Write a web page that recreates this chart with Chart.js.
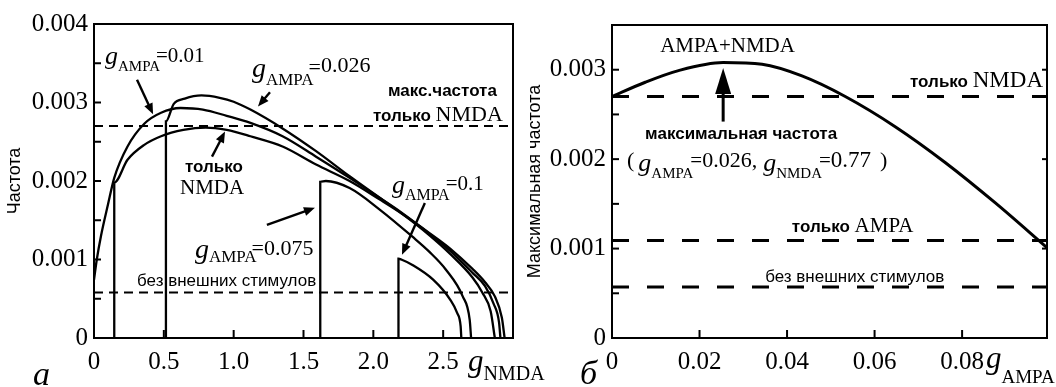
<!DOCTYPE html>
<html><head><meta charset="utf-8">
<script src="https://cdn.jsdelivr.net/npm/chart.js@4/dist/chart.umd.min.js"></script>
<style>
html,body{margin:0;padding:0;background:#fff;}
#wrap{position:relative;width:1056px;height:387px;overflow:hidden;background:#fff;}
#c1{position:absolute;left:0;top:0;}
#c2{position:absolute;left:520px;top:0;}
</style></head><body>
<div id="wrap"><canvas id="c1" width="560" height="387"></canvas><canvas id="c2" width="536" height="387"></canvas></div>
<script>
// ---------- DATA (panel а: frequency vs g_NMDA) ----------
const nmdaOnlyX = [0.145, 0.145, 0.24, 0.36, 0.48, 0.64, 0.8, 0.95, 1.12, 1.35, 1.59, 1.83, 2.05, 2.2, 2.4, 2.55, 2.71, 2.8, 2.87, 2.92, 2.94];
const nmdaOnlyY = [0, 0.00198, 0.00227, 0.00246, 0.00257, 0.00265, 0.00268, 0.00265, 0.00257, 0.00244, 0.00221, 0.002, 0.00176, 0.00159, 0.00134, 0.00114, 0.00088, 0.00071, 0.00053, 0.00026, 0];
const ampa001X = [0, 0.02, 0.05, 0.1, 0.145, 0.24, 0.36, 0.48, 0.62, 0.78, 0.95, 1.12, 1.35, 1.59, 1.83, 2.05, 2.2, 2.4, 2.55, 2.71, 2.8, 2.86, 2.9, 2.91];
const ampa001Y = [0.00074, 0.001, 0.0013, 0.0017, 0.00204, 0.00244, 0.00273, 0.00287, 0.00293, 0.00291, 0.00283, 0.00274, 0.00257, 0.00231, 0.00204, 0.00178, 0.0016, 0.00133, 0.00111, 0.00083, 0.00066, 0.00044, 0.0002, 0];
const ampa0026X = [0.515, 0.515, 0.57, 0.65, 0.77, 0.9, 1.0, 1.12, 1.35, 1.59, 1.83, 2.05, 2.2, 2.4, 2.55, 2.71, 2.78, 2.84, 2.87];
const ampa0026Y = [0, 0.00276, 0.00298, 0.00305, 0.00309, 0.00306, 0.00301, 0.00291, 0.00267, 0.00238, 0.00206, 0.00178, 0.00159, 0.00131, 0.00107, 0.00077, 0.00058, 0.00034, 0];
const ampa0075X = [1.62, 1.62, 1.66, 1.83, 2.05, 2.28, 2.4, 2.52, 2.64, 2.69, 2.70];
const ampa0075Y = [0, 0.00199, 0.002, 0.00191, 0.00163, 0.00129, 0.0011, 0.00087, 0.00053, 0.00023, 0];
const ampa01X = [2.18, 2.18, 2.2, 2.28, 2.43, 2.55, 2.6, 2.625, 2.63];
const ampa01Y = [0, 0.00101, 0.001, 0.00093, 0.00074, 0.00049, 0.00032, 0.00015, 0];
const leftRefLevels = [0.0027, 0.00058];
const leftXTicks = [0, 0.5, 1.0, 1.5, 2.0, 2.5];
const leftXTickLabels = ['0', '0.5', '1.0', '1.5', '2.0', '2.5'];
const leftYTicks = [0, 0.001, 0.002, 0.003, 0.004];
const leftYTickLabels = ['0', '0.001', '0.002', '0.003', '0.004'];

// ---------- DATA (panel б: max frequency vs g_AMPA) ----------
const maxFreqX = [0, 0.0076, 0.0152, 0.0254, 0.0343, 0.0434, 0.0533, 0.0648, 0.0762, 0.0876, 0.0994];
const maxFreqY = [0.0027, 0.00286, 0.00299, 0.00308, 0.00306, 0.00293, 0.0027, 0.00236, 0.00196, 0.00151, 0.00101];
const rightRefLevels = [0.0027, 0.00109, 0.00057];
const rightXTicks = [0, 0.02, 0.04, 0.06, 0.08];
const rightXTickLabels = ['0', '0.02', '0.04', '0.06', '0.08'];
const rightYTicks = [0, 0.001, 0.002, 0.003];
const rightYTickLabels = ['0', '0.001', '0.002', '0.003'];

// ---------- helpers ----------
const SERIF = '"Liberation Serif", "Times New Roman", serif';
const SANS = '"Liberation Sans", Arial, sans-serif';
const pts = (xs, ys) => xs.map((x, i) => ({x: x, y: ys[i]}));
const F = (size, style, fam) => (style ? style + ' ' : '') + size + 'px ' + (fam || SERIF);
const g = (size, dy, dx) => ({t: 'g', font: F(size, 'italic'), dy: dy || 0, dx: dx || 0});
const sub = (t, size, dy, dx) => ({t: t, font: F(size), dy: dy, dx: dx || 0});
const txt = (t, size, dx, dy) => ({t: t, font: F(size), dx: dx || 0, dy: dy || 0});
const sans = (t, size, bold) => ({t: t, font: F(size, bold ? 'bold' : '', SANS)});

function drawRich(ctx, x, y, segs, align) {
  let w = 0;
  segs.forEach(s => { ctx.font = s.font; w += (s.dx || 0) + ctx.measureText(s.t).width; });
  let cx = align === 'center' ? x - w / 2 : x;
  ctx.textBaseline = 'alphabetic';
  ctx.textAlign = 'left';
  segs.forEach(s => {
    ctx.font = s.font;
    cx += (s.dx || 0);
    ctx.fillText(s.t, cx, y + (s.dy || 0));
    cx += ctx.measureText(s.t).width;
  });
}
function drawArrow(ctx, x0, y0, x1, y1, lw, hl, hw) {
  const ang = Math.atan2(y1 - y0, x1 - x0);
  const bx = x1 - hl * Math.cos(ang), by = y1 - hl * Math.sin(ang);
  ctx.lineWidth = lw;
  ctx.beginPath(); ctx.moveTo(x0, y0); ctx.lineTo(bx + Math.cos(ang), by + Math.sin(ang)); ctx.stroke();
  ctx.beginPath();
  ctx.moveTo(x1, y1);
  ctx.lineTo(bx + hw * Math.sin(ang), by - hw * Math.cos(ang));
  ctx.lineTo(bx - hw * Math.sin(ang), by + hw * Math.cos(ang));
  ctx.closePath(); ctx.fill();
}

const deco = {
  id: 'deco',
  afterDatasetsDraw(chart, args, o) {
    const ctx = chart.ctx, xs = chart.scales.x, ys = chart.scales.y, a = chart.chartArea;
    ctx.save();
    ctx.strokeStyle = '#000'; ctx.fillStyle = '#000'; ctx.lineCap = 'butt';
    ctx.lineWidth = 2;
    ctx.strokeRect(a.left, a.top, a.right - a.left, a.bottom - a.top);
    o.yMajor.concat(o.yMinor).forEach(v => { const p = ys.getPixelForValue(v); ctx.beginPath(); ctx.moveTo(a.left, p); ctx.lineTo(a.left + 7, p); ctx.stroke(); });
    (o.yRight || []).forEach(v => { const p = ys.getPixelForValue(v); ctx.beginPath(); ctx.moveTo(a.right, p); ctx.lineTo(a.right - 5, p); ctx.stroke(); });
    o.xMajor.forEach(v => { const p = xs.getPixelForValue(v); ctx.beginPath(); ctx.moveTo(p, a.bottom); ctx.lineTo(p, a.bottom - 8); ctx.stroke(); });
    o.arrows.forEach(r => {
      drawArrow(ctx, xs.getPixelForValue(r.x0), ys.getPixelForValue(r.y0), xs.getPixelForValue(r.x1), ys.getPixelForValue(r.y1), r.lw || 2.4, r.hl || 11, r.hw || 4.5);
    });
    o.labels.forEach(l => drawRich(ctx, xs.getPixelForValue(l.x), ys.getPixelForValue(l.y), l.segs, l.align));
    o.edgeLabels.forEach(l => drawRich(ctx, (l.fromRight ? a.right : a.left) + l.dx, a.bottom + l.dy, l.segs, l.align));
    ctx.restore();
  }
};

function curveDs(xs, ys, w) {
  return {data: pts(xs, ys), borderColor: '#000', borderWidth: w, pointRadius: 0, fill: false, cubicInterpolationMode: 'monotone', tension: 0.4};
}
function refDs(v, x0, x1, dash, w) {
  return {data: [{x: x0, y: v}, {x: x1, y: v}], borderColor: '#000', borderWidth: w, borderDash: dash, pointRadius: 0, fill: false, tension: 0};
}
function scales(xmin, xmax, xt, xl, ymin, ymax, yt, yl, yw, xh, ytitle) {
  return {
    x: {type: 'linear', min: xmin, max: xmax,
      afterBuildTicks: s => { s.ticks = xt.map(v => ({value: v})); },
      afterFit: s => { s.height = xh; },
      grid: {display: false, drawTicks: false}, border: {display: false},
      ticks: {autoSkip: false, maxRotation: 0, padding: 9, color: '#000', font: {family: SERIF, size: 25},
        callback: (v, i) => xl[i]}},
    y: {type: 'linear', min: ymin, max: ymax,
      afterBuildTicks: s => { s.ticks = yt.map(v => ({value: v})); },
      afterFit: s => { s.width = yw; },
      grid: {display: false, drawTicks: false}, border: {display: false},
      ticks: {autoSkip: false, padding: 6, color: '#000', font: {family: SERIF, size: 25},
        callback: (v, i) => yl[i]},
      title: {display: true, text: ytitle, color: '#000', font: {family: SANS, size: 18}, padding: {top: 4, bottom: 0}}}
  };
}

// ---------- chart а ----------
new Chart(document.getElementById('c1'), {
  type: 'line',
  data: {datasets: [
    curveDs(nmdaOnlyX, nmdaOnlyY, 2.3),
    curveDs(ampa001X, ampa001Y, 2.3),
    curveDs(ampa0026X, ampa0026Y, 2.3),
    curveDs(ampa0075X, ampa0075Y, 2.3),
    curveDs(ampa01X, ampa01Y, 2.3),
    refDs(leftRefLevels[0], 0, 3, [9, 6], 2),
    refDs(leftRefLevels[1], 0, 3, [9, 6], 2)
  ]},
  options: {
    responsive: false, animation: false, events: [],
    layout: {padding: {left: 0, top: 24, right: 47, bottom: 0}},
    plugins: {legend: {display: false}, tooltip: {enabled: false},
      deco: {
        yMajor: leftYTicks, yMinor: [0.0005, 0.0015, 0.0025, 0.0035], xMajor: [0.5, 1.0, 1.5, 2.0, 2.5],
        arrows: [
          {x0: 0.308, y0: 0.00329, x1: 0.423, y1: 0.00285},
          {x0: 1.26, y0: 0.00313, x1: 1.174, y1: 0.00295},
          {x0: 0.845, y0: 0.00231, x1: 0.938, y1: 0.00263},
          {x0: 1.238, y0: 0.00144, x1: 1.582, y1: 0.00166},
          {x0: 2.369, y0: 0.00172, x1: 2.205, y1: 0.00106}
        ],
        labels: [
          {x: 0.079, y: 0.00351, segs: [g(26, 2), sub('AMPA', 15, 9), txt('=', 21, -4), txt('0.01', 21)]},
          {x: 1.131, y: 0.00339, segs: [g(28, 5), sub('AMPA', 17, 13), txt('=', 22, -5, 2), txt('0.026', 22)]},
          {x: 2.105, y: 0.00308, segs: [sans('макс.частота', 17, true)]},
          {x: 1.997, y: 0.00276, segs: [sans('только ', 17, true), txt('NMDA', 22)]},
          {x: 0.651, y: 0.00212, segs: [sans('только', 17, true)]},
          {x: 0.616, y: 0.00183, segs: [txt('NMDA', 21)]},
          {x: 0.723, y: 0.00106, segs: [g(28, 3), sub('AMPA', 17, 7), txt('=', 22, -5), txt('0.075', 22)]},
          {x: 0.308, y: 0.00066, segs: [sans('без внешних стимулов', 17, false)]},
          {x: 2.133, y: 0.00189, segs: [g(26, 3), sub('AMPA', 16, 10), txt('=', 21, -4), txt('0.1', 21)]}
        ],
        edgeLabels: [
          {fromRight: true, dx: -45, dy: 33, segs: [g(31), sub('NMDA', 20, 9)]},
          {fromRight: false, dx: -61, dy: 47, segs: [{t: 'а', font: F(34, 'italic'), dx: 0, dy: 0}]}
        ]
      }},
    scales: scales(0, 3, leftXTicks, leftXTickLabels, 0, 0.004, leftYTicks, leftYTickLabels, 94, 49, 'Частота')
  },
  plugins: [deco]
});

// ---------- chart б ----------
new Chart(document.getElementById('c2'), {
  type: 'line',
  data: {datasets: [
    curveDs(maxFreqX, maxFreqY, 3),
    refDs(rightRefLevels[0], 0, 0.0994, [17, 18], 3),
    refDs(rightRefLevels[1], 0, 0.0994, [17, 18], 3),
    refDs(rightRefLevels[2], 0, 0.0994, [17, 18], 3)
  ]},
  options: {
    responsive: false, animation: false, events: [],
    layout: {padding: {left: 0, top: 25, right: 9, bottom: 0}},
    plugins: {legend: {display: false}, tooltip: {enabled: false},
      deco: {
        yMajor: rightYTicks, yMinor: [0.0005, 0.0015, 0.0025], yRight: [0.001, 0.002, 0.003], xMajor: [0.02, 0.04, 0.06, 0.08],
        arrows: [
          {x0: 0.0254, y0: 0.00242, x1: 0.0254, y1: 0.00302, lw: 3, hl: 26, hw: 8}
        ],
        labels: [
          {x: 0.0264, y: 0.0032, align: 'center', segs: [txt('AMPA+NMDA', 21)]},
          {x: 0.0295, y: 0.00222, align: 'center', segs: [sans('максимальная частота', 17, true)]},
          {x: 0.00343, y: 0.00191, segs: [txt('(', 22), g(26, 4, 4), sub('AMPA', 15, 11), txt('=', 21, -3), txt('0.026,', 22), g(26, 4, 6), sub('NMDA', 15, 11), txt('=', 21, -3), txt('0.77', 23), txt(')', 22, 9)]},
          {x: 0.0681, y: 0.00281, segs: [sans('только ', 17, true), txt('NMDA', 23)]},
          {x: 0.0411, y: 0.00118, segs: [sans('только ', 17, true), txt('AMPA', 21)]},
          {x: 0.035, y: 0.00063, segs: [sans('без внешних стимулов', 17, false)]}
        ],
        edgeLabels: [
          {fromRight: true, dx: -61, dy: 30, segs: [g(31), sub('AMPA', 19, 15)]},
          {fromRight: false, dx: -32, dy: 46, segs: [{t: 'б', font: F(34, 'italic'), dx: 0, dy: 0}]}
        ]
      }},
    scales: scales(0, 0.0994, rightXTicks, rightXTickLabels, 0, 0.0035, rightYTicks, rightYTickLabels, 92, 49, 'Максимальная частота')
  },
  plugins: [deco]
});
</script></body></html>
